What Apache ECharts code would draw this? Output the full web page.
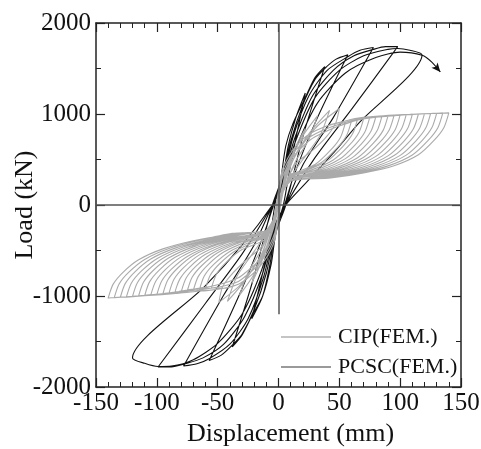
<!DOCTYPE html>
<html>
<head>
<meta charset="utf-8">
<script src="https://cdn.jsdelivr.net/npm/echarts@6/dist/echarts.min.js"></script>
<style>
  html, body { margin: 0; padding: 0; background: #fff; }
  #main { width: 481px; height: 449px; }
</style>
</head>
<body>
<div id="main"></div>
<script>
// 荷载-位移滞回曲线
var xMin = -150, xMax = 150, xStep = 50;
var yMin = -2000, yMax = 2000, yStep = 1000;

// CIP(FEM.) 前几圈小循环
var cipEarly = [
  [0, 0], [5, 300], [12, 560], [8, 380], [3, 150], [0, 0], [-4, -250], [-12, -560], [-8, -380], [-3, -150],
  [2, 100], [6, 380], [14, 640], [22, 840], [16, 600], [8, 400], [2, 100], [-3, -200], [-8, -420], [-15, -660], [-22, -860], [-16, -620], [-8, -410], [-2, -100],
  [3, 200], [10, 480], [20, 760], [32, 980], [25, 720], [14, 480], [5, 200], [-4, -220], [-11, -500], [-21, -780], [-32, -990], [-25, -740], [-14, -490], [-5, -200],
  [3, 150], [12, 500], [26, 800], [42, 1040], [34, 760], [20, 500], [6, 220], [-5, -200], [-13, -520], [-27, -820], [-42, -1060], [-34, -780], [-20, -510], [-6, -220],
  [3, 160], [13, 520], [30, 840], [50, 1060], [47, 900], [40, 760], [28, 600], [14, 450], [5, 200], [-5, -210], [-14, -540], [-30, -860], [-49, -1070], [-46, -900], [-39, -770], [-27, -610], [-14, -460], [-6, -230]
];
// CIP 再加载路径（正向三条、负向三条，各圈轮流使用）
var cipBandPosA = [[-4, -150], [0, 150], [3, 380], [7, 500], [12, 610], [19, 710], [26, 785], [36, 850], [48, 900], [58, 935], [67, 958], [80, 975], [95, 988], [110, 998], [125, 1006], [140, 1012]];
var cipBandPosB = [[-4, -150], [0, 120], [3, 330], [7, 460], [12, 570], [19, 670], [26, 750], [36, 820], [48, 880], [58, 920], [67, 950], [80, 970], [95, 985], [110, 997], [125, 1005], [140, 1012]];
var cipBandPosC = [[-4, -150], [0, 90], [3, 290], [7, 420], [12, 530], [19, 630], [26, 715], [36, 790], [48, 860], [58, 905], [67, 940], [80, 965], [95, 982], [110, 996], [125, 1005], [140, 1012]];
var cipBandNegA = [[4, 150], [0, -150], [-3, -380], [-7, -510], [-12, -620], [-19, -730], [-26, -810], [-33, -870], [-45, -915], [-56, -935], [-68, -950], [-82, -968], [-96, -985], [-110, -998], [-125, -1012], [-140, -1022]];
var cipBandNegB = [[4, 150], [0, -120], [-3, -340], [-7, -470], [-12, -580], [-19, -690], [-26, -770], [-33, -840], [-45, -890], [-56, -915], [-68, -934], [-82, -960], [-96, -980], [-110, -995], [-125, -1010], [-140, -1022]];
var cipBandNegC = [[4, 150], [0, -90], [-3, -300], [-7, -430], [-12, -540], [-19, -650], [-26, -730], [-33, -800], [-45, -860], [-56, -895], [-68, -920], [-82, -950], [-96, -975], [-110, -992], [-125, -1008], [-140, -1022]];
// CIP 正向卸载曲线（每圈）
var cipFanPos = [
  [[55, 905], [51, 745], [43, 605], [30, 445], [10, 325]],
  [[60, 925], [56, 765], [48, 625], [35, 465], [15, 345], [10, 330]],
  [[65, 945], [61, 785], [53, 645], [40, 485], [20, 365], [10, 340]],
  [[70, 955], [66, 795], [58, 655], [45, 495], [25, 375], [10, 327]],
  [[75, 962], [71, 802], [63, 662], [50, 502], [30, 382], [10, 318]],
  [[80, 970], [76, 810], [68, 670], [55, 510], [35, 390], [10, 310]],
  [[85, 975], [81, 815], [73, 675], [60, 515], [40, 395], [15, 315], [10, 305]],
  [[90, 980], [86, 820], [78, 680], [65, 520], [45, 400], [20, 320], [10, 300]],
  [[95, 985], [91, 825], [83, 685], [70, 525], [50, 405], [25, 325], [10, 295]],
  [[100, 990], [96, 830], [88, 690], [75, 530], [55, 410], [30, 330], [10, 293]],
  [[105, 994], [101, 834], [93, 694], [80, 534], [60, 414], [35, 334], [10, 290]],
  [[110, 997], [106, 837], [98, 697], [85, 537], [65, 417], [40, 337], [12, 282]],
  [[115, 1000], [111, 840], [103, 700], [90, 540], [70, 420], [45, 340], [18, 285], [10, 278]],
  [[120, 1003], [116, 843], [108, 703], [95, 543], [75, 423], [50, 343], [23, 288], [10, 275]],
  [[125, 1005], [121, 845], [113, 705], [100, 545], [80, 425], [55, 345], [28, 290], [10, 272]],
  [[130, 1008], [126, 848], [118, 708], [105, 548], [85, 428], [60, 348], [33, 293], [10, 270]],
  [[135, 1010], [131, 850], [123, 710], [110, 550], [90, 430], [65, 350], [38, 295], [10, 268]],
  [[140, 1012], [136, 852], [128, 712], [115, 552], [95, 432], [70, 352], [43, 297], [10, 265]]
];
// CIP 负向卸载曲线（每圈）
var cipFanNeg = [
  [[-55, -910], [-51, -760], [-43, -630], [-30, -490], [-10, -370]],
  [[-60, -920], [-56, -770], [-48, -640], [-35, -500], [-15, -380], [-10, -360]],
  [[-65, -930], [-61, -780], [-53, -650], [-40, -510], [-20, -390], [-10, -350]],
  [[-70, -937], [-66, -787], [-58, -657], [-45, -517], [-25, -397], [-10, -340]],
  [[-75, -945], [-71, -795], [-63, -665], [-50, -525], [-30, -405], [-10, -330]],
  [[-80, -955], [-76, -805], [-68, -675], [-55, -535], [-35, -415], [-10, -322]],
  [[-85, -962], [-81, -812], [-73, -682], [-60, -542], [-40, -422], [-15, -332], [-10, -315]],
  [[-90, -968], [-86, -818], [-78, -688], [-65, -548], [-45, -428], [-20, -338], [-10, -310]],
  [[-95, -975], [-91, -825], [-83, -695], [-70, -555], [-50, -435], [-25, -345], [-10, -305]],
  [[-100, -985], [-96, -835], [-88, -705], [-75, -565], [-55, -445], [-30, -355], [-10, -302]],
  [[-105, -990], [-101, -840], [-93, -710], [-80, -570], [-60, -450], [-35, -360], [-10, -298]],
  [[-110, -995], [-106, -845], [-98, -715], [-85, -575], [-65, -455], [-40, -365], [-12, -295]],
  [[-115, -1000], [-111, -850], [-103, -720], [-90, -580], [-70, -460], [-45, -370], [-18, -300], [-10, -293]],
  [[-120, -1005], [-116, -855], [-108, -725], [-95, -585], [-75, -465], [-50, -375], [-23, -302], [-10, -290]],
  [[-125, -1010], [-121, -860], [-113, -730], [-100, -590], [-80, -470], [-55, -380], [-28, -305], [-10, -288]],
  [[-130, -1014], [-126, -864], [-118, -734], [-105, -594], [-85, -474], [-60, -384], [-33, -308], [-10, -287]],
  [[-135, -1018], [-131, -868], [-123, -738], [-110, -598], [-90, -478], [-65, -388], [-38, -312], [-10, -286]],
  [[-140, -1022], [-136, -872], [-128, -742], [-115, -602], [-95, -482], [-70, -392], [-43, -332], [-10, -290]]
];
// PCSC(FEM.) 滞回路径
var pcscPath = [
  [0, 0], [3, 250], [8, 650], [14, 950], [22, 1230], [10, 450], [4, 0],
  [-3, -300], [-7, -650], [-13, -1000], [-22, -1250], [-8, -450], [-3, 0],
  [2, 300], [6, 650], [12, 900], [22, 1180], [30, 1400], [38, 1520], [20, 750], [6, 0],
  [-2, -300], [-6, -650], [-13, -1000], [-22, -1220], [-30, -1430], [-38, -1560], [-20, -780], [-5, 0],
  [3, 300], [10, 700], [20, 1100], [30, 1380], [38, 1500], [47, 1600], [57, 1650], [30, 900], [12, 300], [5, 0],
  [-3, -300], [-10, -750], [-20, -1150], [-30, -1420], [-38, -1540], [-47, -1650], [-57, -1710], [-30, -920], [-12, -320], [-4, 0],
  [3, 250], [12, 750], [25, 1200], [40, 1480], [57, 1630], [67, 1700], [78, 1730], [45, 960], [20, 440], [6, 0],
  [-3, -280], [-12, -780], [-25, -1250], [-40, -1530], [-57, -1690], [-67, -1745], [-78, -1770], [-45, -990], [-20, -440], [-5, 0],
  [3, 250], [13, 720], [28, 1200], [45, 1480], [62, 1640], [78, 1710], [88, 1740], [98, 1740], [60, 1050], [30, 520], [6, 0],
  [-3, -250], [-13, -750], [-28, -1230], [-45, -1530], [-62, -1680], [-78, -1750], [-88, -1780], [-99, -1780], [-60, -1080], [-30, -540], [-5, 0],
  [3, 220], [14, 700], [30, 1180], [50, 1480], [70, 1640], [90, 1710], [98, 1720], [108, 1700], [118, 1650], [66, 900], [47, 600], [21, 220], [6, 0],
  [-3, -220], [-14, -720], [-30, -1200], [-50, -1520], [-70, -1700], [-88, -1770], [-99, -1775], [-110, -1740], [-120, -1680], [-61, -900], [-30, -440], [-5, 0],
  [3, 200], [15, 650], [32, 1120], [55, 1450], [80, 1620], [100, 1680], [118, 1645], [126, 1571], [133, 1462]
];

// 拼接CIP完整路径
var bandsPos = [cipBandPosA, cipBandPosB, cipBandPosC];
var bandsNeg = [cipBandNegA, cipBandNegB, cipBandNegC];
var cipPath = cipEarly.slice();
for (var i = 0; i < cipFanPos.length; i++) {
  var dPos = cipFanPos[i][0][0], dNeg = cipFanNeg[i][0][0];
  bandsPos[i % 3].forEach(function (p) { if (p[0] < dPos - 2) cipPath.push(p); });
  cipPath = cipPath.concat(cipFanPos[i]);
  bandsNeg[i % 3].forEach(function (p) { if (p[0] > dNeg + 2) cipPath.push(p); });
  cipPath = cipPath.concat(cipFanNeg[i]);
}

// 最后一点加箭头
var pcscData = pcscPath.map(function (p, idx) {
  if (idx == pcscPath.length - 1) {
    return { value: p, symbol: 'arrow', symbolSize: [6, 9], symbolRotate: -140, itemStyle: { color: '#111' } };
  }
  return p;
});

var font = 'Liberation Serif, Times New Roman, serif';
var myChart = echarts.init(document.getElementById('main'));
var axisCommon = {
  type: 'value',
  axisLine: { show: true, onZero: false, lineStyle: { color: '#222', width: 1.5 } },
  axisTick: { show: true, inside: true, length: 9, lineStyle: { color: '#222', width: 1.2 } },
  minorTick: { show: true, length: 5, lineStyle: { color: '#222', width: 1 } },
  splitLine: { show: false }
};
var option = {
  animation: false,
  backgroundColor: '#fff',
  grid: { left: 96, right: 20, top: 23, bottom: 62, containLabel: false, outerBoundsMode: 'none' },
  legend: {
    orient: 'vertical',
    left: 276,
    top: 321,
    icon: 'rect',
    itemWidth: 50,
    itemHeight: 2,
    itemGap: 8,
    textStyle: { fontFamily: font, fontSize: 22, color: '#111', padding: [0, 0, 0, 2] },
    data: [
      { name: 'CIP(FEM.)', itemStyle: { color: '#c4c4c4' } },
      { name: 'PCSC(FEM.)', itemStyle: { color: '#9a9a9a' } }
    ]
  },
  xAxis: [
    Object.assign({}, axisCommon, {
      min: xMin, max: xMax, interval: xStep, position: 'bottom',
      minorTick: Object.assign({}, axisCommon.minorTick, { splitNumber: 5 }),
      axisLabel: { margin: 4, fontFamily: font, fontSize: 25, color: '#111' },
      name: 'Displacement (mm)', nameLocation: 'middle', nameGap: 30,
      nameTextStyle: { fontFamily: font, fontSize: 26, color: '#111', padding: [0, 0, 0, 24] }
    }),
    Object.assign({}, axisCommon, {
      min: xMin, max: xMax, interval: xStep, position: 'top',
      minorTick: Object.assign({}, axisCommon.minorTick, { splitNumber: 5 }),
      axisLabel: { show: false }
    })
  ],
  yAxis: [
    Object.assign({}, axisCommon, {
      min: yMin, max: yMax, interval: yStep, position: 'left',
      minorTick: Object.assign({}, axisCommon.minorTick, { splitNumber: 2 }),
      axisLabel: { margin: 5, fontFamily: font, fontSize: 25, color: '#111', formatter: function (v) { return String(v); } },
      name: 'Load (kN)', nameLocation: 'middle', nameGap: 58, nameRotate: 90, nameMoveOverlap: false,
      nameTextStyle: { fontFamily: font, fontSize: 26, color: '#111' }
    }),
    Object.assign({}, axisCommon, {
      min: yMin, max: yMax, interval: yStep, position: 'right',
      minorTick: Object.assign({}, axisCommon.minorTick, { splitNumber: 2 }),
      axisLabel: { show: false }
    })
  ],
  series: [
    {
      name: 'PCSC(FEM.)',
      type: 'line',
      data: pcscData,
      symbol: 'none',
      smooth: 0.25,
      lineStyle: { color: '#111', width: 1.1 },
      z: 2
    },
    {
      name: 'CIP(FEM.)',
      type: 'line',
      data: cipPath,
      symbol: 'none',
      smooth: 0.25,
      lineStyle: { color: '#aaaaaa', width: 1.1 },
      z: 3,
      markLine: {
        silent: true,
        symbol: 'none',
        label: { show: false },
        lineStyle: { color: '#555', width: 1.5, type: 'solid' },
        data: [
          { yAxis: 0 },
          [{ coord: [0, yMax] }, { coord: [0, -1200] }]
        ]
      }
    }
  ]
};
myChart.setOption(option);
</script>
</body>
</html>
